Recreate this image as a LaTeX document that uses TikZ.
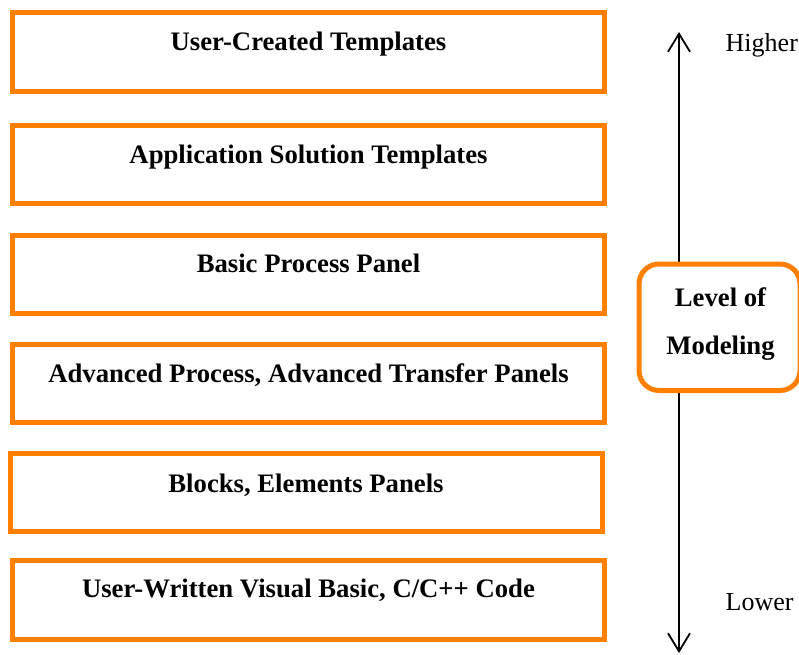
\documentclass[tikz,border=0pt]{standalone}
\usepackage{fontspec}
\setmainfont{Liberation Serif}
\usetikzlibrary{arrows.meta}
\definecolor{boxorange}{RGB}{255,128,0}
\tikzset{
  layerbox/.style={draw=boxorange, line width=5pt, fill=white, inner sep=0pt},
  layertext/.style={font=\fontsize{26.7}{32}\selectfont\bfseries, inner sep=0pt, anchor=base},
  sidetext/.style={font=\fontsize{26}{32}\selectfont, inner sep=0pt, anchor=base west},
  levelbox/.style={draw=boxorange, line width=5pt, fill=white, rounded corners=20pt},
  scalearrow/.style={line width=1.8pt, {Straight Barb[length=18pt,width=22pt,line width=1.8pt]}-{Straight Barb[length=18pt,width=22pt,line width=1.8pt]}}
}
\begin{document}
\begin{tikzpicture}[x=1pt,y=-1pt]
\useasboundingbox (0,0) rectangle (799,654);
% layer boxes, top to bottom
\draw[layerbox] (12.5,12.5) rectangle (604.5,91);
\draw[layerbox] (12.5,125) rectangle (604.5,203);
\draw[layerbox] (12.5,235) rectangle (604.5,313);
\draw[layerbox] (12.5,344.5) rectangle (604.5,422);
\draw[layerbox] (10,453.5) rectangle (602,531);
\draw[layerbox] (12.5,560.5) rectangle (604.5,639.5);
\node[layertext] (t1) at (308.5,50) {User-Created Templates};
\node[layertext] (t2) at (308.5,163) {Application Solution Templates};
\node[layertext] (t3) at (308.5,272) {Basic Process Panel};
\node[layertext] (t4) at (308.5,382) {Advanced Process, Advanced Transfer Panels};
\node[layertext] (t5) at (306,492) {Blocks, Elements Panels};
\node[layertext] (t6) at (308.5,597) {User-Written Visual Basic, C/C++ Code};
% scale of modelling level
\coordinate (top) at (679,32);
\coordinate (bottom) at (679,653);
\draw[scalearrow] (bottom) -- (top);
\draw[levelbox] (639,264) rectangle (800,390.5);
\node[layertext] (level1) at (720.5,306.7) {Level of};
\node[layertext] (level2) at (720.5,354) {Modeling};
\node[sidetext] (higher) at (725.5,51) {Higher};
\node[sidetext] (lower) at (725.5,610) {Lower};
\end{tikzpicture}
\end{document}
